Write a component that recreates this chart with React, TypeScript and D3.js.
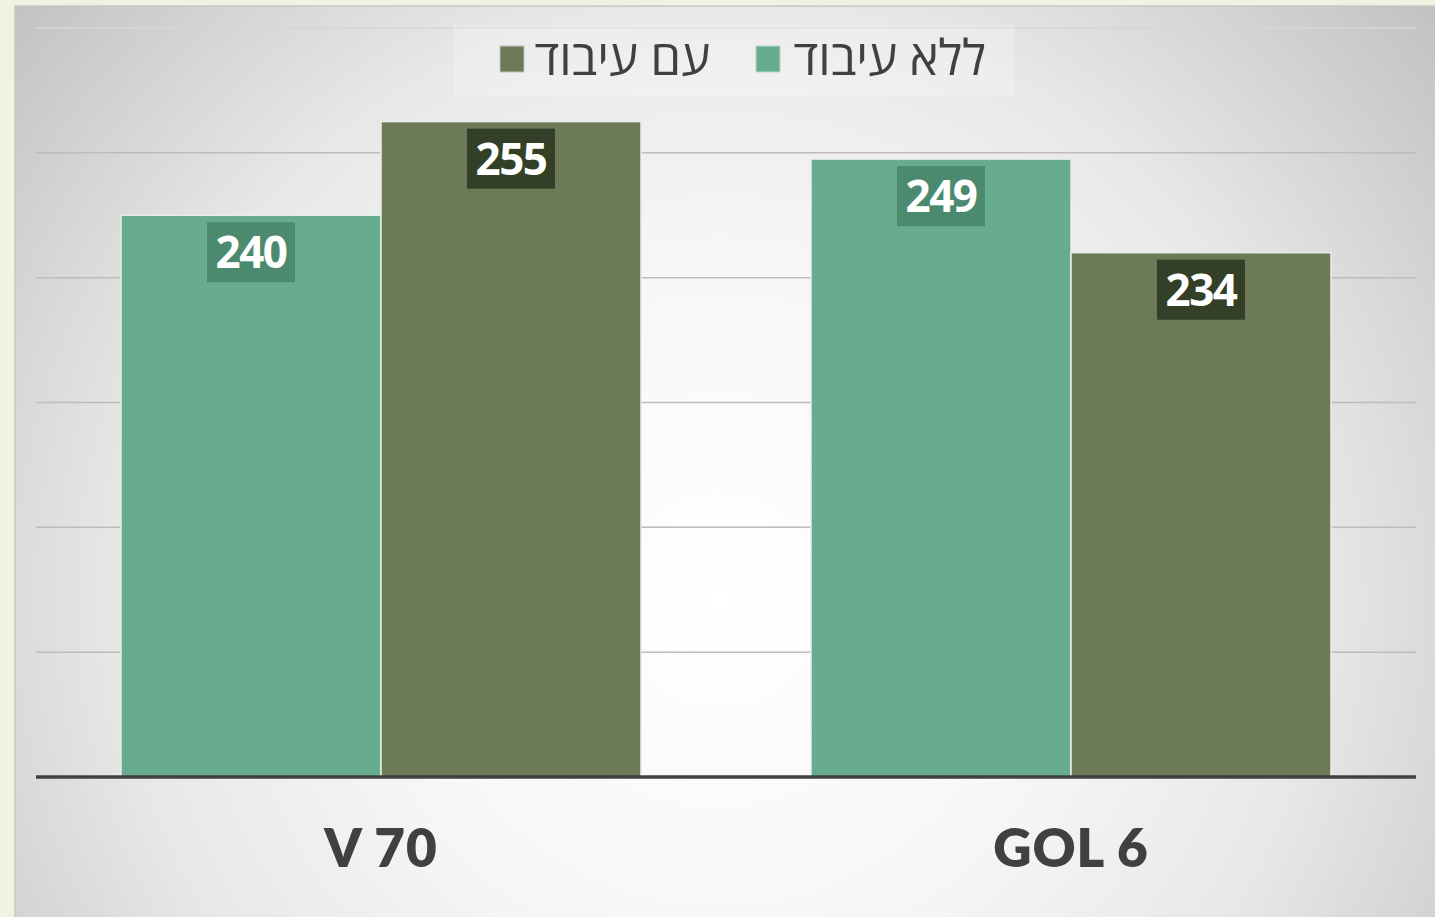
import { scaleBand, scaleLinear, range } from "d3";

const categories = ["V 70", "GOL 6"];
const seriesNames = ["ללא עיבוד", "עם עיבוד"];
const seriesColors = ["#68ac8f", "#6c7a58"];
const labelBoxColors = ["#4b8a6f", "#343f27"];
const values = [
  [240, 255], // V 70
  [249, 234], // GOL 6
];
const yTicks = [150, 170, 190, 210, 230, 250, 270];

const width = 1435;
const height = 917;
const plot = { left: 36, right: 1416, top: 28, bottom: 777 };

function App() {
  const x0 = scaleBand<string>()
    .domain(categories)
    .range([plot.left, plot.right])
    .paddingInner(0.2464)
    .paddingOuter(0.1232);

  const x1 = scaleBand<number>()
    .domain(range(seriesNames.length))
    .range([0, x0.bandwidth()]);

  const y = scaleLinear().domain([150, 270]).range([plot.bottom, plot.top]);

  return (
    <svg
      width={width}
      height={height}
      style={{ position: "absolute", left: 0, top: 0 }}
    >
      <defs>
        <radialGradient
          id="bg"
          gradientUnits="userSpaceOnUse"
          cx={720}
          cy={600}
          r={960}
        >
          <stop offset="0" stopColor="#ffffff" />
          <stop offset="0.35" stopColor="#f7f7f7" />
          <stop offset="0.62" stopColor="#e8e8e8" />
          <stop offset="1" stopColor="#bebebe" />
        </radialGradient>
      </defs>

      <rect x={0} y={0} width={width} height={height} fill="#eff4e2" />
      <rect
        x={15}
        y={6}
        width={width}
        height={height}
        fill="url(#bg)"
        stroke="#c8c8c2"
        strokeWidth={1.5}
      />

      {/* gridlines */}
      {yTicks.slice(1).map((t, i) => (
        <line
          key={t}
          x1={plot.left}
          x2={plot.right}
          y1={y(t)}
          y2={y(t)}
          stroke={i === yTicks.length - 2 ? "#d6d6d6" : "#bcbcbc"}
          strokeWidth={1.5}
        />
      ))}

      {/* legend */}
      <rect x={453} y={25} width={562} height={71} fill="#ffffff" opacity={0.22} />
      <g
        fontFamily="'Open Sans', 'DejaVu Sans', 'Liberation Sans', sans-serif"
        fontSize={49}
        fill="#404040"
      >
        <rect x={756} y={46} width={24} height={26} fill={seriesColors[0]} stroke="#b9d8c9" strokeWidth={1} />
        <text x={986} y={75} textAnchor="end">
          {seriesNames[0]}
        </text>
        <rect x={500} y={46} width={24} height={26} fill={seriesColors[1]} stroke="#c2c8b6" strokeWidth={1} />
        <text x={710} y={75} textAnchor="end">
          {seriesNames[1]}
        </text>
      </g>

      {/* bars */}
      {categories.map((c, ci) => (
        <g key={c} transform={`translate(${x0(c)},0)`}>
          {values[ci].map((v, si) => {
            const bx = x1(si)!;
            const bw = x1.bandwidth();
            const by = y(v);
            const cx = bx + bw / 2;
            return (
              <g key={si}>
                <rect
                  x={bx}
                  y={by}
                  width={bw}
                  height={plot.bottom - by}
                  fill={seriesColors[si]}
                  stroke="#e6eee8"
                  strokeWidth={1.5}
                />
                <rect
                  x={cx - 44}
                  y={by + 7}
                  width={88}
                  height={60}
                  fill={labelBoxColors[si]}
                />
                <text
                  x={cx}
                  y={by + 53}
                  textAnchor="middle"
                  fill="#ffffff"
                  fontFamily="'Open Sans', Roboto, sans-serif"
                  fontWeight={700}
                  fontSize={44}
                  letterSpacing={-1.5}
                >
                  {v}
                </text>
              </g>
            );
          })}
        </g>
      ))}

      {/* baseline */}
      <line
        x1={plot.left}
        x2={plot.right}
        y1={plot.bottom}
        y2={plot.bottom}
        stroke="#404040"
        strokeWidth={3.5}
      />

      {/* category labels */}
      {categories.map((c) => (
        <text
          key={c}
          x={x0(c)! + x0.bandwidth() / 2}
          y={867}
          textAnchor="middle"
          fill="#404040"
          fontFamily="Lato, 'DejaVu Sans', sans-serif"
          fontWeight={800}
          fontSize={53}
          letterSpacing={1}
        >
          {c}
        </text>
      ))}
    </svg>
  );
}

export default App;
